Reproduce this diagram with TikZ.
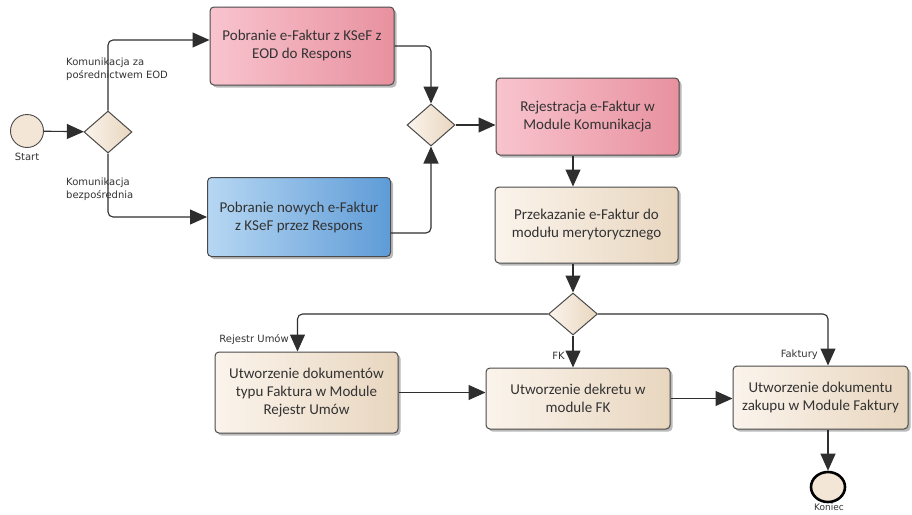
\documentclass[tikz,border=0pt]{standalone}
\usepackage{fontspec}
\setmainfont{Carlito}
\newfontfamily\labfont{DejaVu Sans}
\usetikzlibrary{shapes.geometric,arrows.meta,shadows}
\definecolor{linec}{HTML}{2E2E2E}
\definecolor{boxb}{HTML}{4A4A4A}
\definecolor{txtc}{HTML}{333333}
\definecolor{pinkL}{HTML}{F8C4CE}
\definecolor{pinkR}{HTML}{E8919F}
\definecolor{blueL}{HTML}{B7D7F3}
\definecolor{blueR}{HTML}{5E9CD7}
\definecolor{begL}{HTML}{FBF4EC}
\definecolor{begR}{HTML}{E8D6BF}
\definecolor{begC}{HTML}{F3E6D6}
\tikzset{
  procbox/.style={rectangle, rounded corners=4pt, draw=boxb, line width=1pt,
    align=center, text=txtc, font=\fontsize{15}{18}\selectfont, inner sep=2pt,
    drop shadow={shadow xshift=2.5pt, shadow yshift=-2.5pt, fill=black!60, opacity=.45}},
  pinkbox/.style={procbox, left color=pinkL, right color=pinkR},
  bluebox/.style={procbox, left color=blueL, right color=blueR},
  begbox/.style={procbox, left color=begL, right color=begR},
  gate/.style={diamond, draw=boxb, line width=1pt, inner sep=0pt,
    left color=begL, right color=begR},
  flow/.style={draw=linec, line width=1.1pt, rounded corners=5pt,
    -{Triangle[length=17pt,width=15pt]}},
  lab/.style={font=\labfont\fontsize{10}{12.5}\selectfont, text=txtc, align=left, inner sep=1pt},
}
\begin{document}
\begin{tikzpicture}[x=1pt,y=-1pt]
\useasboundingbox (0,0) rectangle (912,514);
% events
\node[circle, draw=boxb, line width=0.9pt, fill=begC, minimum size=33pt, inner sep=0pt] (start) at (27,131) {};
\node[lab] (startl) at (27,157) {Start};
\node[ellipse, draw=black, line width=2.6pt, fill=begC, minimum width=34pt, minimum height=30pt, inner sep=0pt] (kon) at (828,487) {};
\node[lab, font=\labfont\fontsize{9}{11}\selectfont] (konl) at (829,507) {Koniec};
% gateways
\node[gate, minimum width=48pt, minimum height=42pt] (d1) at (108,132) {};
\node[gate, minimum width=48pt, minimum height=42pt] (d2) at (431,125) {};
\node[gate, minimum width=49pt, minimum height=42pt] (d3) at (573,314) {};
% tasks
\node[pinkbox, minimum width=184pt, minimum height=78pt] (b1) at (302,46) {Pobranie e-Faktur z KSeF z\\EOD do Respons};
\node[bluebox, minimum width=183pt, minimum height=79pt] (b2) at (299,217) {Pobranie nowych e-Faktur\\z KSeF przez Respons};
\node[pinkbox, minimum width=183pt, minimum height=77pt] (b3) at (587.5,116.5) {Rejestracja e-Faktur w\\Module Komunikacja};
\node[begbox, minimum width=183pt, minimum height=76pt] (b4) at (586.5,225) {Przekazanie e-Faktur do\\modułu merytorycznego};
\node[begbox, minimum width=183pt, minimum height=81pt] (b5) at (306.5,392.5) {Utworzenie dokumentów\\typu Faktura w Module\\Rejestr Umów};
\node[begbox, minimum width=184pt, minimum height=61pt] (b6) at (578,398.5) {Utworzenie dekretu w\\module FK};
\node[begbox, minimum width=175pt, minimum height=63pt] (b7) at (820.5,397.5) {Utworzenie dokumentu\\zakupu w Module Faktury};
% connectors
\draw[flow] (start) -- (d1);
\draw[flow] (d1.north) |- ([yshift=6pt]b1.west);
\draw[flow] (d1.south) |- (b2.west);
\node[lab, anchor=north west] (l1) at (65,57) {Komunikacja za\\pośrednictwem EOD};
\node[lab, anchor=north west] (l2) at (65,177) {Komunikacja\\bezpośrednia};
\draw[flow] (b1.east) -| (d2.north);
\draw[flow] ([yshift=-16pt]b2.east) -| (d2.south);
\draw[flow] (d2.east) -- (d2.east -| b3.west);
\draw[flow] (b3.south -| d3.north) -- (b4.north -| d3.north);
\draw[flow] (b4.south -| d3.north) -- (d3.north);
\draw[flow] (d3.west) -| ([xshift=-9pt]b5.north);
\draw[flow] (d3.south) -- (d3.south |- b6.north);
\draw[flow] (d3.east) -| (b7.north -| kon.north);
\draw[flow] (b5.east) -- (b5.east -| b6.west);
\draw[flow] (b6.east) -- (b6.east -| b7.west);
\draw[flow] (b7.south -| kon.north) -- (kon.north);
\node[lab, anchor=east] (lr) at (290,340) {Rejestr Umów};
\node[lab, anchor=east] (lfk) at (566,356) {FK};
\node[lab, anchor=east] (lfa) at (819,355) {Faktury};
\end{tikzpicture}
\end{document}
